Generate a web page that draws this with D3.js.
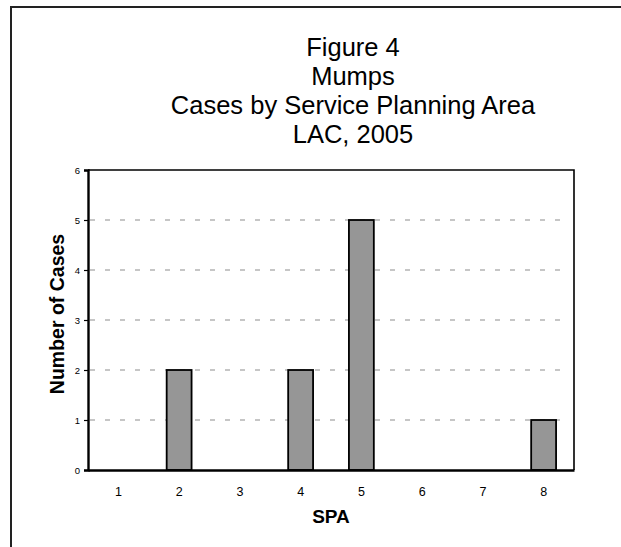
<!DOCTYPE html>
<html>
<head>
<meta charset="utf-8">
<script src="https://cdn.jsdelivr.net/npm/d3@7"></script>
<style>
  body { margin: 0; background: #fff; }
  svg { display: block; font-family: "Liberation Sans", Arial, sans-serif; }
</style>
</head>
<body>
<div id="graph"></div>
<script>
// chart data
var titleLines = ["Figure 4", "Mumps", "Cases by Service Planning Area", "LAC, 2005"];
var spa = ["1", "2", "3", "4", "5", "6", "7", "8"];
var cases = [0, 2, 0, 2, 5, 0, 0, 1];
var yTicks = [0, 1, 2, 3, 4, 5, 6];

var margin = { top: 170, right: 47, bottom: 77, left: 88 },
    width = 621 - margin.left - margin.right,
    height = 547 - margin.top - margin.bottom;

var root = d3.select("#graph")
    .append("svg")
    .attr("width", 621)
    .attr("height", 547);

// outer frame (runs off the right and bottom of the picture)
root.append("rect")
    .attr("x", 11).attr("y", 7)
    .attr("width", 700).attr("height", 700)
    .attr("fill", "none")
    .attr("stroke", "#222")
    .attr("stroke-width", 2);

// title
root.append("g")
    .selectAll("text")
    .data(titleLines)
    .enter().append("text")
    .attr("x", 353)
    .attr("y", function(d, i) { return 56 + i * 29; })
    .attr("text-anchor", "middle")
    .style("font-size", "25.5px")
    .text(function(d) { return d; });

var svg = root.append("g")
    .attr("transform", "translate(" + margin.left + "," + margin.top + ")");

var x = d3.scaleBand()
    .domain(spa)
    .range([0, width])
    .paddingInner(0.59)
    .paddingOuter(0.295);

var y = d3.scaleLinear()
    .domain([0, 6])
    .range([height, 0]);

// dashed gridlines
svg.append("g")
    .selectAll("line")
    .data(yTicks.filter(function(d) { return d > 0 && d < 6; }))
    .enter().append("line")
    .attr("x1", 2).attr("x2", width - 6)
    .attr("y1", function(d) { return y(d); })
    .attr("y2", function(d) { return y(d); })
    .attr("stroke", "#b4b4b4")
    .attr("stroke-width", 1.5)
    .attr("stroke-dasharray", "5,10");

// bars
svg.selectAll(".bar")
    .data(cases)
    .enter().append("rect")
    .attr("class", "bar")
    .attr("x", function(d, i) { return x(spa[i]); })
    .attr("y", function(d) { return y(d); })
    .attr("width", x.bandwidth())
    .attr("height", function(d) { return height - y(d); })
    .attr("fill", "#969696")
    .attr("stroke", "#000")
    .attr("stroke-width", 1.8)
    .style("display", function(d) { return d > 0 ? null : "none"; });

// top and right border of plot area
svg.append("path")
    .attr("d", "M0,0H" + width + "V" + height)
    .attr("fill", "none")
    .attr("stroke", "#000")
    .attr("stroke-width", 1.6);

// Y axis
var yAxis = svg.append("g")
    .call(d3.axisLeft(y).tickValues(yTicks).tickFormat(d3.format("d")).tickSize(4).tickPadding(4));
yAxis.select(".domain").attr("stroke-width", 2.4);
yAxis.selectAll(".tick line").attr("stroke-width", 1.2);
yAxis.selectAll("text")
    .style("font-size", "9.5px")
    .style("font-family", "Liberation Sans, Arial, sans-serif")
    .attr("fill", "#000");

// X axis
var xAxis = svg.append("g")
    .attr("transform", "translate(0," + height + ")")
    .call(d3.axisBottom(x).tickSize(0).tickPadding(17));
xAxis.select(".domain").attr("stroke-width", 2.4);
xAxis.selectAll("text")
    .style("font-size", "12.5px")
    .style("font-family", "Liberation Sans, Arial, sans-serif")
    .attr("fill", "#000");

// axis labels
svg.append("text")
    .attr("x", width / 2)
    .attr("y", height + 53)
    .attr("text-anchor", "middle")
    .style("font-size", "19px")
    .style("font-weight", "bold")
    .text("SPA");

svg.append("text")
    .attr("transform", "rotate(-90)")
    .attr("x", -144)
    .attr("y", -24)
    .attr("text-anchor", "middle")
    .style("font-size", "19.5px")
    .style("font-weight", "bold")
    .text("Number of Cases");
</script>
</body>
</html>
